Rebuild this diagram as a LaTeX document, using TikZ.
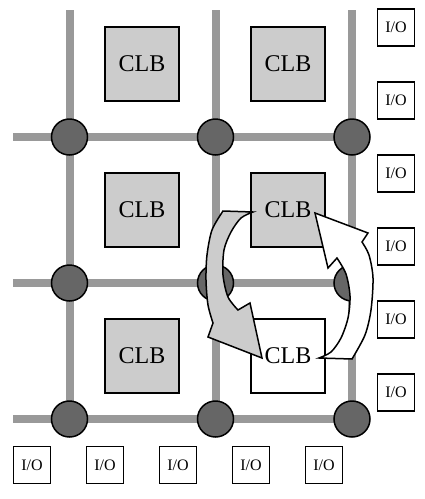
\documentclass[tikz,border=0pt]{standalone}
\usepackage{fontspec}
\setmainfont{Liberation Serif}
\usetikzlibrary{positioning}
\definecolor{wiregrey}{HTML}{999999}
\definecolor{switchgrey}{HTML}{666666}
\definecolor{clbgrey}{HTML}{CCCCCC}
\tikzset{
x=1pt, y=-1pt, % one unit is one pixel of the figure, y runs downwards
wire/.style={line width=8pt, wiregrey}, % routing channels
switch/.style={circle, draw, line width=1.5pt, fill=switchgrey, minimum size=36pt, inner sep=0pt}, % switch boxes
clb/.style={draw, line width=1.5pt, fill=clbgrey, minimum size=74pt, inner sep=0pt, font=\fontsize{24}{24}\selectfont}, % logic blocks
io/.style={draw, line width=1.5pt, fill=white, minimum size=37pt, inner sep=0pt, font=\fontsize{16}{16}\selectfont}, % I/O pads
blockarrow/.style={draw, line width=1.5pt, line join=miter}, % the two big arrows
}

\begin{document}
\begin{tikzpicture}
    \useasboundingbox (0,0) rectangle (424,499);

    % channels
    \coordinate (h1a) at (13,137);  \coordinate (h1b) at (370,137);
    \coordinate (h2a) at (13,283);  \coordinate (h2b) at (370,283);
    \coordinate (h3a) at (13,419);  \coordinate (h3b) at (370,419);
    \coordinate (v1a) at (69.5,10); \coordinate (v1b) at (69.5,419);
    \coordinate (v2a) at (215.5,10); \coordinate (v2b) at (215.5,419);
    \coordinate (v3a) at (352,10);  \coordinate (v3b) at (352,419);
    \draw[wire] (h1a) -- (h1b);
    \draw[wire] (h2a) -- (h2b);
    \draw[wire] (h3a) -- (h3b);
    \draw[wire] (v1a) -- (v1b);
    \draw[wire] (v2a) -- (v2b);
    \draw[wire] (v3a) -- (v3b);

    % switches
    \node[switch] (s11) at (69.5,137) {};
    \node[switch] (s12) at (215.5,137) {};
    \node[switch] (s13) at (352,137) {};
    \node[switch] (s21) at (69.5,283) {};
    \node[switch] (s22) at (215.5,283) {};
    \node[switch] (s23) at (352,283) {};
    \node[switch] (s31) at (69.5,419) {};
    \node[switch] (s32) at (215.5,419) {};
    \node[switch] (s33) at (352,419) {};

    % logic blocks
    \node[clb] (clb11) at (142,64) {CLB};
    \node[clb, right of=clb11, node distance=146pt] (clb12) {CLB};
    \node[clb, below of=clb11, node distance=146pt] (clb21) {CLB};
    \node[clb, right of=clb21, node distance=146pt] (clb22) {CLB};
    \node[clb, below of=clb21, node distance=146pt] (clb31) {CLB};
    \node[clb, fill=white, right of=clb31, node distance=146pt] (clb32) {CLB};

    % I/O pads
    \node[io] (ior1) at (396,27.5) {I/O};
    \node[io, below of=ior1, node distance=73pt] (ior2) {I/O};
    \node[io, below of=ior2, node distance=73pt] (ior3) {I/O};
    \node[io, below of=ior3, node distance=73pt] (ior4) {I/O};
    \node[io, below of=ior4, node distance=73pt] (ior5) {I/O};
    \node[io, below of=ior5, node distance=73pt] (ior6) {I/O};
    \node[io] (iob1) at (32,465) {I/O};
    \node[io, right of=iob1, node distance=73pt] (iob2) {I/O};
    \node[io, right of=iob2, node distance=73pt] (iob3) {I/O};
    \node[io, right of=iob3, node distance=73pt] (iob4) {I/O};
    \node[io, right of=iob4, node distance=73pt] (iob5) {I/O};

    % arrow from clb22 down to clb32
    \draw[blockarrow, fill=clbgrey] (253,212) -- (223,211)
      -- plot[smooth] coordinates {(223,211) (212,230) (207,255) (206,280) (208,305) (213,323)}
      -- (208,337) -- (262,358) -- (250,303) -- (238,310)
      -- plot[smooth] coordinates {(238,310) (228,297) (223,275) (224,250) (231,232) (241,218) (253,212)}
      -- cycle;

    % arrow from clb32 back up to clb22
    \draw[blockarrow, fill=white] (315,213) -- (368,233) -- (362,242)
      -- plot[smooth] coordinates {(362,242) (369,255) (373,278) (371,310) (365,335) (352,359)}
      -- (319,358)
      -- plot[smooth] coordinates {(319,358) (331,352) (341,338) (348,318) (350,296) (346,274) (337,258)}
      -- (328,268) -- cycle;
\end{tikzpicture}
\end{document}
